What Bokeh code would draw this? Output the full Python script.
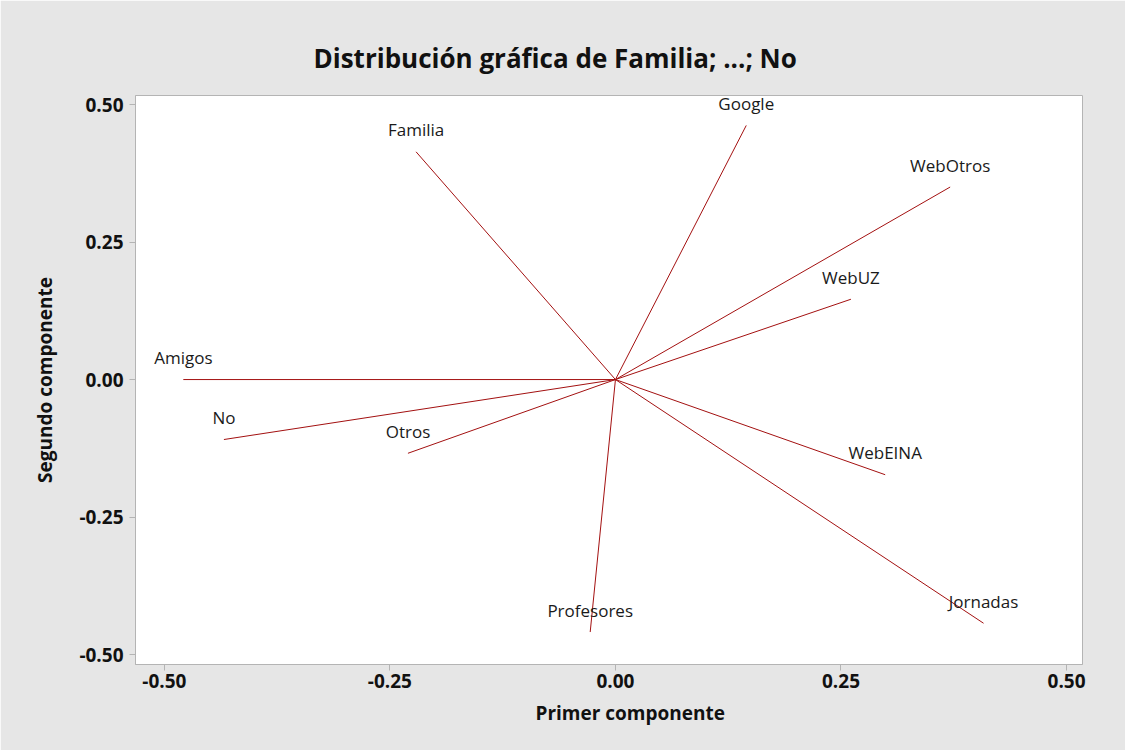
from bokeh.plotting import figure
from bokeh.models import FixedTicker, NumeralTickFormatter, Range1d, ColumnDataSource, Title
from bokeh.embed import file_html
from bokeh.resources import INLINE
from bokeh.core.properties import value

# Loadings (first and second principal component)
variables = ["Familia", "Google", "WebOtros", "WebUZ", "Amigos", "No",
             "Otros", "Profesores", "WebEINA", "Jornadas"]
pc1 = [-0.221, 0.145, 0.371, 0.261, -0.479, -0.434, -0.230, -0.028, 0.299, 0.408]
pc2 = [0.414, 0.462, 0.350, 0.146, 0.000, -0.109, -0.134, -0.459, -0.173, -0.443]
ticks = [-0.5, -0.25, 0.0, 0.25, 0.5]

FONT = "Open Sans"
GRAY_BG = "#e6e6e6"
AXIS_GRAY = "#b4b4b4"
LINE_COLOR = "#a31010"

src = ColumnDataSource(dict(name=variables, pc1=pc1, pc2=pc2,
                            x0=[0.0] * len(pc1), y0=[0.0] * len(pc2)))

p = figure(width=1125, height=750, output_backend="svg", toolbar_location=None,
           x_range=Range1d(-0.532, 0.5177), y_range=Range1d(-0.518, 0.5164),
           min_border_left=135, min_border_right=43, min_border_top=95, min_border_bottom=86)

p.border_fill_color = GRAY_BG
p.background_fill_color = "white"
p.outline_line_color = AXIS_GRAY
p.outline_line_width = 1
p.grid.visible = False

p.title = Title(text="Distribución gráfica de Familia; ...; No", align="left", offset=178,
                text_font=FONT, text_font_size="26px", text_font_style="bold",
                text_color="#111111", standoff=39)

for ax in (p.xaxis[0], p.yaxis[0]):
    ax.ticker = FixedTicker(ticks=ticks)
    ax.formatter = NumeralTickFormatter(format="0.00")
    ax.axis_line_color = AXIS_GRAY
    ax.major_tick_line_color = AXIS_GRAY
    ax.major_tick_out = 6
    ax.major_tick_in = 0
    ax.minor_tick_line_color = None
    ax.major_label_text_font = FONT
    ax.major_label_text_font_style = "bold"
    ax.major_label_text_font_size = "19px"
    ax.major_label_text_color = "#111111"
    ax.axis_label_text_font = FONT
    ax.axis_label_text_font_style = "bold"
    ax.axis_label_text_font_size = "19px"
    ax.axis_label_text_color = "#111111"

p.yaxis.axis_label = "Segundo componente"
p.xaxis.major_label_standoff = 3
p.yaxis.major_label_standoff = 6
p.yaxis.axis_label_standoff = 18

p.add_layout(Title(text="Primer componente", align="left", offset=400,
                   text_font=FONT, text_font_size="19px", text_font_style="bold",
                   text_color="#111111", standoff=14), "below")

p.segment(x0="x0", y0="y0", x1="pc1", y1="pc2", source=src,
          line_color=LINE_COLOR, line_width=1)
p.text(x="pc1", y="pc2", text="name", source=src, text_align="center",
       text_baseline="alphabetic", y_offset=-22, text_font=value(FONT),
       text_font_size="17px", text_color="#1a1a1a")

open("out.html", "w").write(file_html(p, INLINE))
